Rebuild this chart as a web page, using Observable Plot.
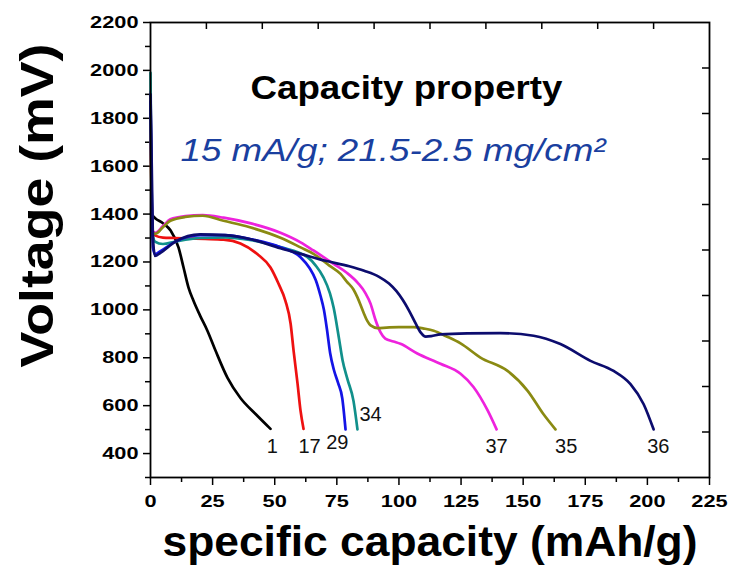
<!DOCTYPE html>
<html><head><meta charset="utf-8">
<script src="https://cdn.jsdelivr.net/npm/d3@7"></script>
<script src="https://cdn.jsdelivr.net/npm/@observablehq/plot@0.6"></script>
<style>body{margin:0;background:#fff}</style>
</head><body><div id="chart"></div>
<script>
// ---- data (specific capacity mAh/g, voltage mV) ----
const cycle1 = [[0.3,1400],[2,1382],[5,1362],[8.1,1331],[11.3,1260],[13.3,1177],[15.3,1093],[17.3,1038],[20,975],[22.9,913],[26.2,829],[31,716],[36.2,632],[42.3,565],[48.3,503]];
const cycle17 = [[0,1800],[0.8,1330],[2,1310],[5,1302],[9.3,1300],[15,1298],[22,1296],[29.4,1293],[36.2,1277],[43.1,1232],[48.3,1177],[51.5,1110],[54.3,1038],[56.4,942],[57.6,829],[59.2,691],[60.4,578],[61.6,503]];
const cycle29 = [[0,1870],[1,1260],[1.8,1232],[4,1245],[10,1285],[20,1312],[30,1312],[40,1296],[52.3,1262],[60.4,1220],[64,1175],[66.5,1125],[68.4,1060],[69.8,1000],[71,920],[72.3,820],[73.8,750],[75.5,695],[77.2,630],[78.5,501]];
const cycle34 = [[0,1990],[0.8,1320],[1.8,1285],[5,1275],[10,1285],[20,1300],[30,1303],[40,1292],[52.3,1262],[63.2,1220],[66.5,1185],[69.6,1136],[72.2,1070],[73.7,1010],[75.8,885],[77.3,790],[79.3,710],[81.7,620],[83.3,501]];
const cycle37 = [[0,1910],[0.8,1330],[2,1322],[5,1350],[8,1378],[14,1392],[21,1396],[29.4,1385],[40,1362],[52.3,1322],[60.4,1282],[65.6,1248],[73.7,1192],[79,1155],[83.5,1112],[86.5,1070],[88.6,1025],[90.5,960],[92.6,906],[94.5,880],[97.8,868],[100.6,858],[107.4,818],[116.7,775],[124.8,733],[130,678],[135.7,580],[139.3,501]];
const cycle35 = [[0,1850],[0.8,1320],[2,1318],[5,1345],[8,1372],[14,1388],[21,1393],[29.4,1372],[40,1345],[52.3,1301],[60.4,1261],[65.6,1234],[72,1185],[76.5,1150],[79,1118],[81.7,1085],[83.3,1052],[85.7,990],[87.2,955],[88.6,935],[91.4,924],[95,926],[100,928],[105.9,928],[110,922],[114,913],[119,890],[124.8,860],[132.8,801],[143.7,745],[151.8,662],[158.2,564],[163,501]];
const cycle36 = [[0,1900],[0.5,1600],[1,1300],[1.8,1225],[4,1238],[10,1285],[20,1315],[30,1312],[40,1296],[52.3,1257],[60.4,1234],[70,1206],[80,1182],[86,1163],[92,1138],[96,1110],[99,1078],[101.5,1042],[104,998],[106.5,948],[108.8,905],[110.8,888],[113,890],[116.7,898],[127.5,902],[140.9,903],[154.2,892],[165,857],[177.1,787],[186.4,745],[193.2,690],[198.5,606],[202.5,501]];

const seriesNames  = ["1","17","37","35","34","29","36"];
const seriesColors = ["#000000","#ee1111","#ee22dd","#8a8a12","#11908b","#1414e6","#0c0c6e"];
const seriesData   = [cycle1, cycle17, cycle37, cycle35, cycle34, cycle29, cycle36];

const labelText = ["1","17","29","34","37","35","36"];
const labelX    = [49.0, 64.0, 75.2, 88.6, 139.3, 167.3, 204.4];
const labelY    = [431, 431, 446, 563, 428, 428, 428];

const xMajorTicks = [0,25,50,75,100,125,150,175,200,225];
const yMajorTicks = [400,600,800,1000,1200,1400,1600,1800,2000,2200];
const xMinorTicks = d3.range(12.5, 225, 25);
const yMinorTicks = d3.range(300, 2200, 200);
const topTicks    = d3.range(22.5, 225, 22.5);
const rightTicks  = d3.range(490, 2200, 190);

const titleText    = "Capacity property";
const subtitleText = "15 mA/g; 21.5-2.5 mg/cm²";
const xTitle = "specific capacity (mAh/g)";
const yTitle = "Voltage (mV)";

// ---- chart ----
const W = 730, H = 571, mL = 150, mR = 21, mT = 22, mB = 94;
const fw = W - mL - mR, fh = H - mT - mB;

const lineMarks = seriesData.map((pts, i) =>
  Plot.line(pts, {x: d => d[0], y: d => d[1], stroke: seriesColors[i], strokeWidth: 2.7, curve: "monotone-x"})
);

const chart = Plot.plot({
  width: W, height: H,
  marginLeft: mL, marginRight: mR, marginTop: mT, marginBottom: mB,
  style: {fontFamily: "Liberation Sans, Arial, sans-serif", fontSize: "17px", color: "#000", background: "#fff"},
  x: {domain: [0, 225]},
  y: {domain: [300, 2200]},
  marks: [
    Plot.axisX({ticks: xMajorTicks, tickSize: 8, tickPadding: 9, tickFormat: d => String(d), fontWeight: "bold", fontSize: 17, label: null, strokeWidth: 1.5}),
    Plot.axisX({ticks: xMinorTicks, tickSize: 5, tickFormat: () => "", label: null, strokeWidth: 1.5}),
    Plot.axisY({ticks: yMajorTicks, tickSize: 7, tickPadding: 5, tickFormat: d => String(d), fontWeight: "bold", fontSize: 17, label: null, strokeWidth: 1.5}),
    Plot.axisY({ticks: yMinorTicks, tickSize: 5, tickFormat: () => "", label: null, strokeWidth: 1.5}),
    Plot.ruleX(topTicks, {x: d => d, insetBottom: fh - 7, strokeWidth: 1.5}),
    Plot.ruleY(rightTicks, {y: d => d, insetLeft: fw - 7, strokeWidth: 1.5}),
    ...lineMarks,
    Plot.frame({stroke: "#000", strokeWidth: 1.8}),
    Plot.text(labelText, {x: (d, i) => labelX[i], y: (d, i) => labelY[i], text: d => d, fontSize: 20, fill: "#111"}),
    Plot.text([titleText], {frameAnchor: "top", textAnchor: "middle", lineAnchor: "top", dx: -23.5, dy: 53, text: d => d, fontSize: 33, fontWeight: "bold", fill: "#000"}),
    Plot.text([subtitleText], {frameAnchor: "top", textAnchor: "middle", lineAnchor: "top", dx: -37, dy: 116, text: d => d, fontSize: 32, fontStyle: "italic", fill: "#1a3f9f"}),
    Plot.text([xTitle], {frameAnchor: "bottom", textAnchor: "middle", lineAnchor: "top", dy: 49, text: d => d, fontSize: 42, fontWeight: "bold", fill: "#000"}),
    Plot.text([yTitle], {frameAnchor: "left", textAnchor: "middle", lineAnchor: "middle", rotate: -90, dx: -112, dy: -44.5, text: d => d, fontSize: 46, fontWeight: "bold", fill: "#000"})
  ]
});

// stretch text horizontally like the original figure
const stretch = {};
stretch[titleText] = 312;
stretch[subtitleText] = 425;
stretch[xTitle] = 535;
stretch[yTitle] = 324;
chart.querySelectorAll("text").forEach(t => {
  const s = t.textContent;
  if (stretch[s]) { t.setAttribute("textLength", stretch[s]); t.setAttribute("lengthAdjust", "spacingAndGlyphs"); }
});
chart.querySelectorAll('g[aria-label="y-axis tick label"] text, g[aria-label="x-axis tick label"] text').forEach(t => {
  const tr = t.getAttribute("transform") || "";
  t.setAttribute("transform", tr + " scale(1.28,1)");
});
document.getElementById("chart").appendChild(chart);
</script></body></html>
